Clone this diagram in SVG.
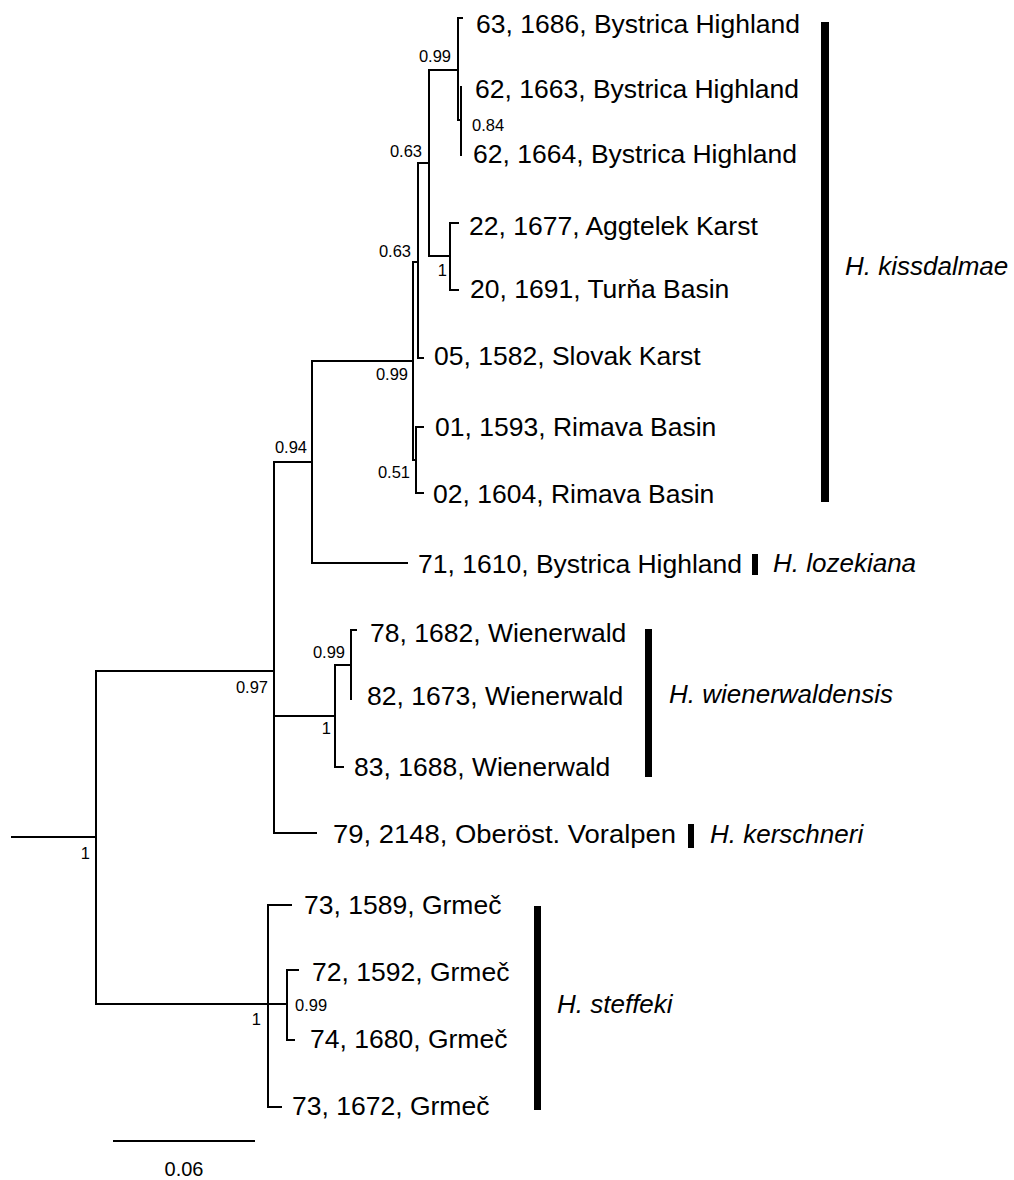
<svg xmlns="http://www.w3.org/2000/svg" width="1014" height="1180" viewBox="0 0 1014 1180">
<style>
.br{fill:none;stroke:#000;stroke-width:2;stroke-linecap:square}
.tip{font-family:"Liberation Sans",Arial,sans-serif;font-size:26.5px;fill:#000}
.sp{font-family:"Liberation Sans",Arial,sans-serif;font-size:26px;font-style:italic;fill:#000}
.sup{font-family:"Liberation Sans",Arial,sans-serif;font-size:16.5px;fill:#000}
.supr{font-family:"Liberation Sans",Arial,sans-serif;font-size:16.5px;fill:#000;text-anchor:end}
.bar{fill:#000}
</style>
<rect width="1014" height="1180" fill="#fff"/>
<g id="connectors">
<path class="br" d="M12,837 H96 M96,671 V1004 M96,671 H274 M96,1004 H287"/>
<path class="br" d="M274,462 V833 M274,462 H312 M274,716 H335 M274,833 H316"/>
<path class="br" d="M312,361 V563 M312,563 H407 M312,361 H413"/>
<path class="br" d="M413,262 V460 M413,262 H418 M413,460 H416"/>
<path class="br" d="M416,427 V493 M416,427 H423 M416,493 H423"/>
<path class="br" d="M418,163 V358 M418,358 H423 M418,163 H429"/>
<path class="br" d="M429,70 V256 M429,70 H458 M429,256 H450"/>
<path class="br" d="M450,223 V290 M450,223 H458 M450,290 H458"/>
<path class="br" d="M458,18 V120 M458,18 H462 M458,120 H461"/>
<path class="br" d="M461,87 V155"/>
<path class="br" d="M335,665 V767 M335,767 H343 M335,665 H351 M351,630 V699 M351,630 H356"/>
<path class="br" d="M268,905 V1107 M268,905 H291 M268,1107 H281 M287,970 V1040 M287,970 H298 M287,1040 H294"/>
<path class="br" d="M114,1141 H254"/>
</g>
<g id="support">
<text class="supr" x="451" y="62">0.99</text>
<text class="sup" x="472" y="131">0.84</text>
<text class="supr" x="422" y="157">0.63</text>
<text class="supr" x="411" y="257">0.63</text>
<text class="supr" x="447" y="276">1</text>
<text class="supr" x="408" y="380">0.99</text>
<text class="supr" x="410" y="478">0.51</text>
<text class="supr" x="307" y="453">0.94</text>
<text class="supr" x="268" y="693">0.97</text>
<text class="supr" x="345" y="658">0.99</text>
<text class="supr" x="331" y="734">1</text>
<text class="supr" x="90" y="859">1</text>
<text class="supr" x="261" y="1025">1</text>
<text class="sup" x="295" y="1011">0.99</text>
</g>
<g id="tips">
<text id="t1" class="tip" x="476" y="33">63, 1686, Bystrica Highland</text>
<text id="t2" class="tip" x="475" y="98">62, 1663, Bystrica Highland</text>
<text id="t3" class="tip" x="473" y="163">62, 1664, Bystrica Highland</text>
<text id="t4" class="tip" x="469" y="235">22, 1677, Aggtelek Karst</text>
<text id="t5" class="tip" x="470" y="298">20, 1691, Turňa Basin</text>
<text id="t6" class="tip" x="434" y="365">05, 1582, Slovak Karst</text>
<text id="t7" class="tip" x="435" y="436">01, 1593, Rimava Basin</text>
<text id="t8" class="tip" x="433" y="503">02, 1604, Rimava Basin</text>
<text id="t9" class="tip" x="418" y="573">71, 1610, Bystrica Highland</text>
<text id="t10" class="tip" x="370" y="642">78, 1682, Wienerwald</text>
<text id="t11" class="tip" x="367" y="705">82, 1673, Wienerwald</text>
<text id="t12" class="tip" x="354" y="776">83, 1688, Wienerwald</text>
<text id="t13" class="tip" x="333" y="843" textLength="343" lengthAdjust="spacingAndGlyphs">79, 2148, Oberöst. Voralpen</text>
<text id="t14" class="tip" x="304" y="914">73, 1589, Grmeč</text>
<text id="t15" class="tip" x="312" y="981">72, 1592, Grmeč</text>
<text id="t16" class="tip" x="310" y="1048">74, 1680, Grmeč</text>
<text id="t17" class="tip" x="292" y="1115">73, 1672, Grmeč</text>
</g>
<g id="species">
<g id="kissdalmae"><rect class="bar" x="821" y="22" width="8" height="480"/><text class="sp" x="845" y="275">H. kissdalmae</text></g>
<g id="lozekiana"><rect class="bar" x="752" y="554" width="6" height="21"/><text class="sp" x="773" y="572">H. lozekiana</text></g>
<g id="wienerwaldensis"><rect class="bar" x="645" y="629" width="7" height="148"/><text class="sp" x="669" y="703">H. wienerwaldensis</text></g>
<g id="kerschneri"><rect class="bar" x="688" y="824" width="6" height="24"/><text class="sp" x="710" y="843">H. kerschneri</text></g>
<g id="steffeki"><rect class="bar" x="534" y="906" width="7" height="204"/><text class="sp" x="557" y="1013">H. steffeki</text></g>
</g>
<g id="scale"><text font-family="Liberation Sans, Arial, sans-serif" font-size="20" x="184" y="1176" text-anchor="middle">0.06</text></g>
</svg>
